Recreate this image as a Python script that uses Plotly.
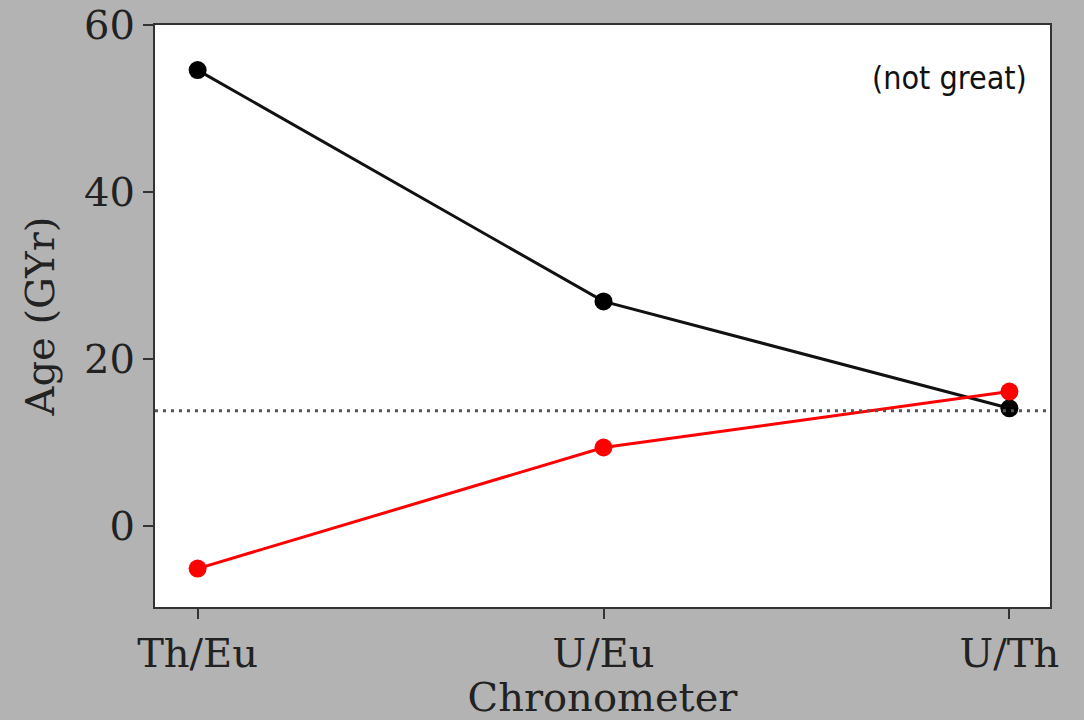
import plotly.graph_objects as go

chronometers = ["Th/Eu", "U/Eu", "U/Th"]
age_black = [54.6, 26.9, 14.1]
age_red = [-5.1, 9.4, 16.1]
universe_age = 13.8
y_ticks = [0, 20, 40, 60]

serif = "DejaVu Serif"
x_idx = list(range(len(chronometers)))

fig = go.Figure()
fig.add_trace(go.Scatter(
    x=x_idx, y=age_black, mode="lines+markers",
    line=dict(color="#111111", width=3),
    marker=dict(color="#000000", size=18),
    showlegend=False,
))
fig.add_trace(go.Scatter(
    x=x_idx, y=age_red, mode="lines+markers",
    line=dict(color="#ff0000", width=3),
    marker=dict(color="#ff0000", size=18),
    showlegend=False,
))
fig.add_hline(y=universe_age, line=dict(color="#555555", width=3, dash="3px,5px"))

fig.add_annotation(
    x=0.888, y=0.909, xref="paper", yref="paper",
    xanchor="center", yanchor="middle",
    text="(not great)", showarrow=False,
    font=dict(family="DejaVu Sans Condensed", size=32,
              color="#111111", weight=300),
)

axis_common = dict(
    showline=True, linecolor="#333333", linewidth=2, mirror=True,
    ticks="outside", ticklen=10, tickwidth=2, tickcolor="#333333",
    showgrid=False, zeroline=False, automargin=False,
    tickfont=dict(family=serif, size=40, color="#222222"),
)

fig.update_xaxes(
    range=[-0.105, 2.1],
    tickmode="array", tickvals=x_idx, ticktext=chronometers,
    title=dict(text="Chronometer", font=dict(family=serif, size=40, color="#222222"), standoff=8),
    **axis_common,
)
fig.update_yaxes(
    range=[-9.7, 60],
    tickmode="array", tickvals=y_ticks,
    title=dict(text="Age (GYr)", font=dict(family=serif, size=40, color="#222222"), standoff=17),
    **axis_common,
)

fig.update_layout(
    width=1084, height=720,
    margin=dict(l=155, r=34, t=25, b=113),
    paper_bgcolor="#b3b3b3",
    plot_bgcolor="#ffffff",
)

fig.write_html("out.html")
